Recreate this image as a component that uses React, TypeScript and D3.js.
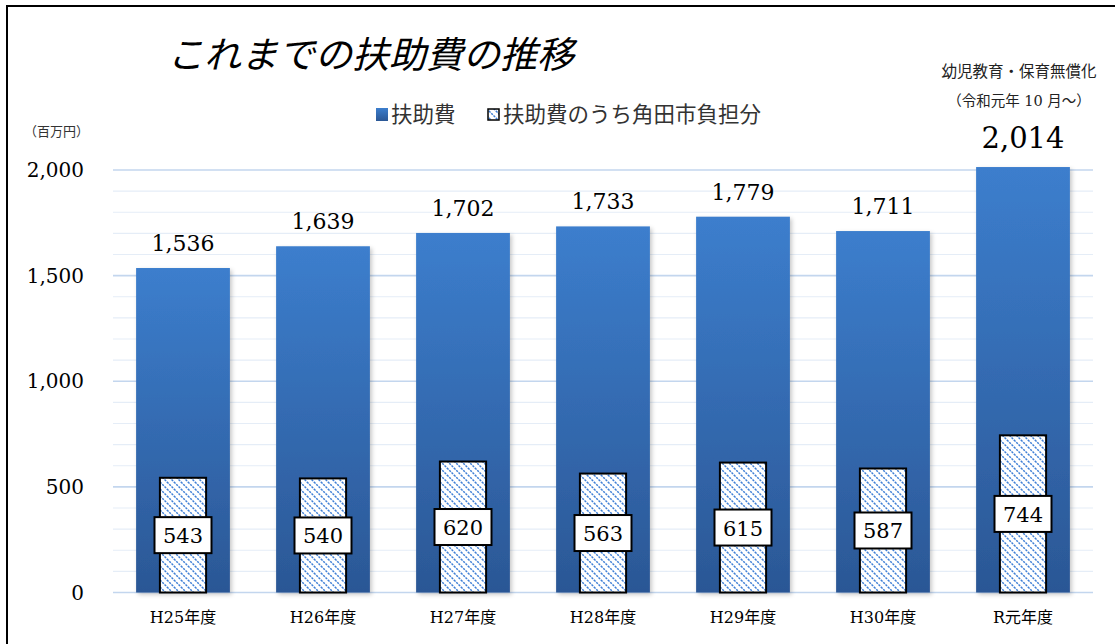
import React from "react";
import * as d3 from "d3";

const categories = ["H25年度", "H26年度", "H27年度", "H28年度", "H29年度", "H30年度", "R元年度"];
const totalValues = [1536, 1639, 1702, 1733, 1779, 1711, 2014];
const cityValues = [543, 540, 620, 563, 615, 587, 744];
const yTicks = [0, 500, 1000, 1500, 2000];
const minorTicks = d3.range(0, 2001, 100);

const W = 1115;
const H = 644;
const serif = "'DejaVu Serif', 'Noto Sans CJK JP', serif";
const cjk = "'Noto Sans CJK JP', sans-serif";

export default function App() {
  const x = d3.scaleBand<string>().domain(categories).range([113, 1093]).padding(0);
  const y = d3.scaleLinear().domain([0, 2000]).range([592.5, 170]);
  const bw = x.bandwidth();
  const outerW = bw * 0.67;
  const innerW = bw * 0.33;
  const fmt = d3.format(",");
  const last = categories.length - 1;

  return (
    <svg width={W} height={H} style={{ position: "absolute", left: 0, top: 0, background: "#fff" }}>
      <defs>
        <linearGradient id="barGrad" x1="0" y1="0" x2="0" y2="1">
          <stop offset="0%" stopColor="#3c7ecd" />
          <stop offset="100%" stopColor="#2b5795" />
        </linearGradient>
        <pattern id="hatch" patternUnits="userSpaceOnUse" width="7" height="7">
          <rect width="7" height="7" fill="#fff" />
          <path d="M-1,-1 L8,8 M-1,6 L1,8 M6,-1 L8,1" stroke="#3f7fd6" strokeWidth="1.5" strokeDasharray="2.2 1" />
        </pattern>
        <filter id="shadow" x="-10%" y="-10%" width="130%" height="130%">
          <feDropShadow dx="2" dy="2" stdDeviation="2" floodColor="#000" floodOpacity="0.22" />
        </filter>
      </defs>

      <rect x={7} y={6} width={1130} height={660} fill="none" stroke="#000" strokeWidth={2} />

      {/* title */}
      <text x={167} y={68} fontFamily={cjk} fontSize={37} fontStyle="italic" fontWeight={400} fill="#000">
        これまでの扶助費の推移
      </text>

      {/* top right note */}
      <text x={1019} y={77} textAnchor="middle" fontFamily={cjk} fontSize={15.5} fill="#222">
        幼児教育・保育無償化
      </text>
      <text x={1019} y={106} textAnchor="middle" fontFamily={serif} fontSize={14.5} fill="#222">
        （令和元年 10 月～）
      </text>

      {/* legend */}
      <rect x={376} y={108} width={12} height={13} fill="url(#barGrad)" />
      <text x={391} y={122} fontFamily={cjk} fontSize={21.5} fill="#333">扶助費</text>
      <rect x={488} y={109} width={11} height={11} fill="url(#hatch)" stroke="#000" strokeWidth={1.5} />
      <text x={503} y={122} fontFamily={cjk} fontSize={21.5} fill="#333">扶助費のうち角田市負担分</text>

      {/* units */}
      <text x={24} y={136} fontFamily={cjk} fontSize={13} fill="#333">（百万円）</text>

      {/* gridlines */}
      {minorTicks.map((t) => (
        <line
          key={"g" + t}
          x1={113}
          x2={1093}
          y1={y(t)}
          y2={y(t)}
          stroke={t % 500 === 0 ? "#c3d6ee" : "#e5edf7"}
          strokeWidth={t % 500 === 0 ? 1.6 : 1.2}
        />
      ))}

      {/* y labels */}
      {yTicks.map((t) => (
        <text key={"y" + t} x={84} y={y(t) + 7} textAnchor="end" fontFamily={serif} fontSize={20} fill="#000">
          {fmt(t)}
        </text>
      ))}

      {/* bars */}
      {categories.map((c, i) => {
        const cx = (x(c) as number) + bw / 2;
        const top = y(totalValues[i]);
        return (
          <rect
            key={c}
            x={cx - outerW / 2}
            y={top}
            width={outerW}
            height={y(0) - top}
            fill="url(#barGrad)"
            filter="url(#shadow)"
          />
        );
      })}

      {categories.map((c, i) => {
        const cx = (x(c) as number) + bw / 2;
        const top = y(totalValues[i]);
        const itop = y(cityValues[i]);
        const mid = y(cityValues[i] / 2);
        const isLast = i === last;
        return (
          <g key={"in" + c}>
            <rect
              x={cx - innerW / 2}
              y={itop}
              width={innerW}
              height={y(0) - itop}
              fill="url(#hatch)"
              stroke="#000"
              strokeWidth={2}
            />
            <rect x={cx - 28.5} y={mid - 18} width={57} height={36} fill="#fff" stroke="#000" strokeWidth={2} />
            <text x={cx} y={mid + 8} textAnchor="middle" fontFamily={serif} fontSize={21} fill="#000">
              {cityValues[i]}
            </text>
            <text
              x={cx}
              y={top - (isLast ? 19 : 17)}
              textAnchor="middle"
              fontFamily={serif}
              fontSize={isLast ? 29 : 22}
              fill="#000"
            >
              {fmt(totalValues[i])}
            </text>
            <text x={cx} y={623} textAnchor="middle" fontFamily={serif} fontSize={16} fill="#000">
              {c}
            </text>
          </g>
        );
      })}
    </svg>
  );
}
